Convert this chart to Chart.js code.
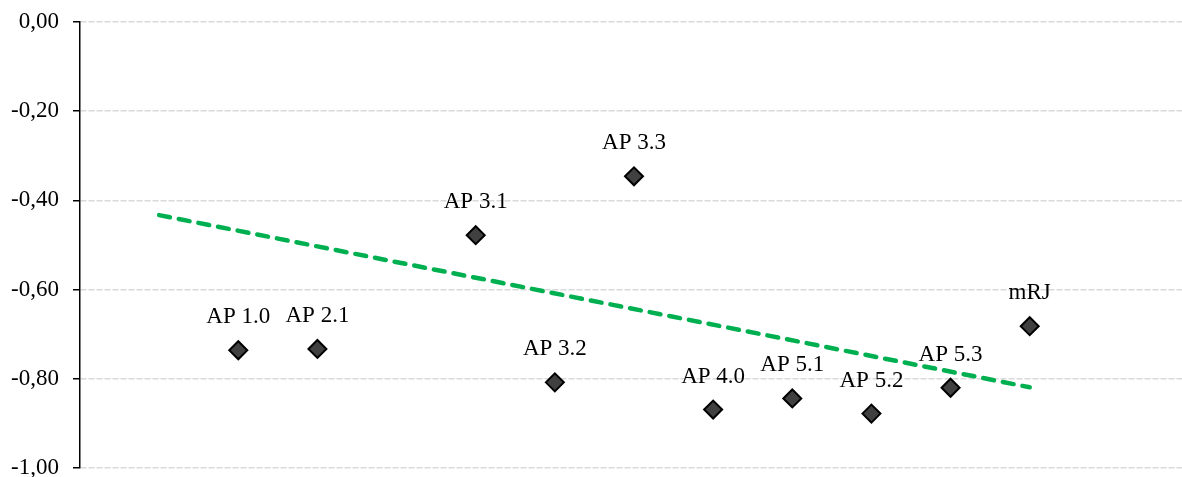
<!DOCTYPE html>
<html>
<head>
<meta charset="utf-8">
<script src="https://cdn.jsdelivr.net/npm/chart.js@4/dist/chart.umd.min.js"></script>
<style>
  html, body { margin: 0; padding: 0; background: #fff; overflow: hidden; }
  #wrap { width: 1188px; height: 477px; }
</style>
</head>
<body>
<div id="wrap"><canvas id="c" width="1188" height="477"></canvas></div>
<script>
// ---- data ----
const categories = ['AP 1.0', 'AP 2.1', 'AP 3.1', 'AP 3.2', 'AP 3.3', 'AP 4.0', 'AP 5.1', 'AP 5.2', 'AP 5.3', 'mRJ'];
const xPositions = [2, 3, 5, 6, 7, 8, 9, 10, 11, 12];
const values = [-0.736, -0.733, -0.478, -0.808, -0.346, -0.869, -0.844, -0.878, -0.820, -0.682];
const trendX = [1, 12];
const trendY = [-0.433, -0.819];
const yTicks = [0, -0.2, -0.4, -0.6, -0.8, -1.0];

const pointData = xPositions.map((x, i) => ({ x: x, y: values[i] }));
const trendData = trendX.map((x, i) => ({ x: x, y: trendY[i] }));

const FONT = "'Liberation Serif', 'Times New Roman', serif";

const labelPlugin = {
  id: 'pointLabels',
  afterDatasetsDraw(chart) {
    const meta = chart.getDatasetMeta(1);
    const ctx = chart.ctx;
    ctx.save();
    ctx.font = "23px " + FONT;
    ctx.fillStyle = '#000';
    ctx.textAlign = 'center';
    ctx.textBaseline = 'middle';
    meta.data.forEach((el, i) => {
      ctx.fillText(categories[i], el.x, el.y - 33);
    });
    ctx.restore();
  }
};

new Chart(document.getElementById('c'), {
  type: 'scatter',
  data: {
    datasets: [
      {
        type: 'line',
        label: 'Trend',
        data: trendData,
        borderColor: '#00B050',
        borderWidth: 4.5,
        borderDash: [11, 9],
        borderCapStyle: 'round',
        pointRadius: 0,
        fill: false,
        clip: false,
        order: 2
      },
      {
        label: 'Values',
        data: pointData,
        pointStyle: 'rectRot',
        pointRadius: 9,
        pointHoverRadius: 9,
        backgroundColor: '#404040',
        borderColor: '#000000',
        borderWidth: 2,
        clip: false,
        order: 1
      }
    ]
  },
  options: {
    responsive: false,
    animation: false,
    devicePixelRatio: 1,
    layout: { autoPadding: false, padding: { left: 0, right: 0, top: 22, bottom: 9 } },
    plugins: {
      legend: { display: false },
      tooltip: { enabled: false },
      title: { display: false }
    },
    scales: {
      x: {
        type: 'linear',
        min: 0,
        max: 14,
        display: false
      },
      y: {
        type: 'linear',
        min: -1,
        max: 0,
        afterBuildTicks: (scale) => { scale.ticks = yTicks.map(v => ({ value: v })); },
        afterFit: (scale) => {
          scale.width = 80;
          scale.paddingTop = 0;
          scale.paddingBottom = 0;
        },
        ticks: {
          font: { family: FONT, size: 23 },
          color: '#000',
          padding: 14,
          callback: (v) => v.toFixed(2).replace('.', ',')
        },
        grid: {
          color: '#d9d9d9',
          lineWidth: 1.5,
          drawTicks: true,
          tickLength: 7,
          tickColor: '#000',
          tickWidth: 1.5,
          tickBorderDash: []
        },
        border: {
          display: true,
          color: '#000',
          width: 1.5,
          dash: [6, 2]
        }
      }
    }
  },
  plugins: [labelPlugin]
});
</script>
</body>
</html>
